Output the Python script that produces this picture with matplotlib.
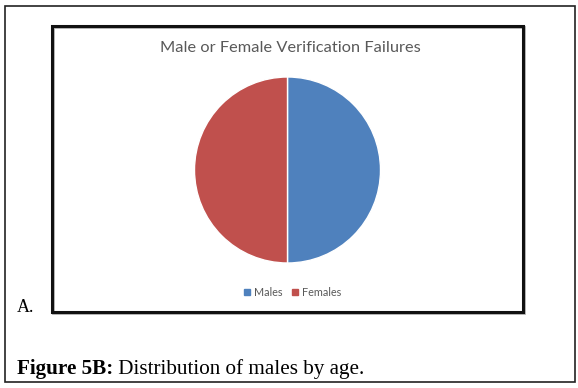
import matplotlib
matplotlib.use("Agg")
import matplotlib.pyplot as plt
from matplotlib.patches import Rectangle
from matplotlib.lines import Line2D

labels = ["Males", "Females"]
values = [50, 50]
colors = ["#4F81BD", "#C0504D"]
title = "Male or Female Verification Failures"
caption_bold = "Figure 5B:"
caption_rest = " Distribution of males by age."
panel_label = "A."

W, H = 578, 388
fig = plt.figure(figsize=(W / 100, H / 100), dpi=100)
fig.patch.set_facecolor("white")

def fx(x):
    return x / W

def fy(y):
    return 1 - y / H

# outer frame
fig.add_artist(Rectangle((fx(5), fy(382)), fx(575) - fx(5), fy(6) - fy(382),
                         transform=fig.transFigure, fill=False,
                         edgecolor="#222222", linewidth=1.2))
# inner chart box with slight shadow
fig.add_artist(Rectangle((fx(53), fy(313)), fx(524) - fx(53), fy(27) - fy(313),
                         transform=fig.transFigure, fill=False,
                         edgecolor="#b0b0b0", linewidth=2.0))
fig.add_artist(Rectangle((fx(52), fy(312)), fx(523) - fx(52), fy(26) - fy(312),
                         transform=fig.transFigure, fill=False,
                         edgecolor="#111111", linewidth=2.2))

# pie
cx, cy, r = 287.5, 170, 93
ax = fig.add_axes([fx(cx - r), fy(cy + r), 2 * r / W, 2 * r / H])
ax.pie(values, colors=colors, startangle=90, counterclock=False, radius=1,
       wedgeprops=dict(edgecolor="white", linewidth=1.0))
ax.set_xlim(-1, 1)
ax.set_ylim(-1, 1)
ax.set_aspect("auto")
ax.axis("off")

fig.text(fx(290), fy(48), title, ha="center", va="center",
         fontsize=11.8, color="#595959", family="Lato")

handles = [Line2D([0], [0], marker="s", linestyle="none", markersize=4,
                  markerfacecolor=c, markeredgecolor=c) for c in colors]
fig.legend(handles, labels, loc="center", bbox_to_anchor=(fx(291), fy(292)),
           ncol=2, frameon=False, handletextpad=0.0, handlelength=1.2,
           columnspacing=0.6, labelcolor="#595959",
           prop=dict(family="Lato", size=7.8))

fig.text(fx(17), fy(307), panel_label, ha="left", va="center",
         fontsize=13, family="Liberation Serif", color="black")

t = fig.text(fx(17), fy(374), caption_bold, ha="left", va="baseline",
             fontsize=15.2, family="Liberation Serif", fontweight="bold", color="black")
fig.canvas.draw()
bb = t.get_window_extent()
fig.text(bb.x1 / W, fy(374), caption_rest, ha="left", va="baseline",
         fontsize=15.2, family="Liberation Serif", color="black")

fig.savefig("out.png", dpi=100, facecolor="white")
